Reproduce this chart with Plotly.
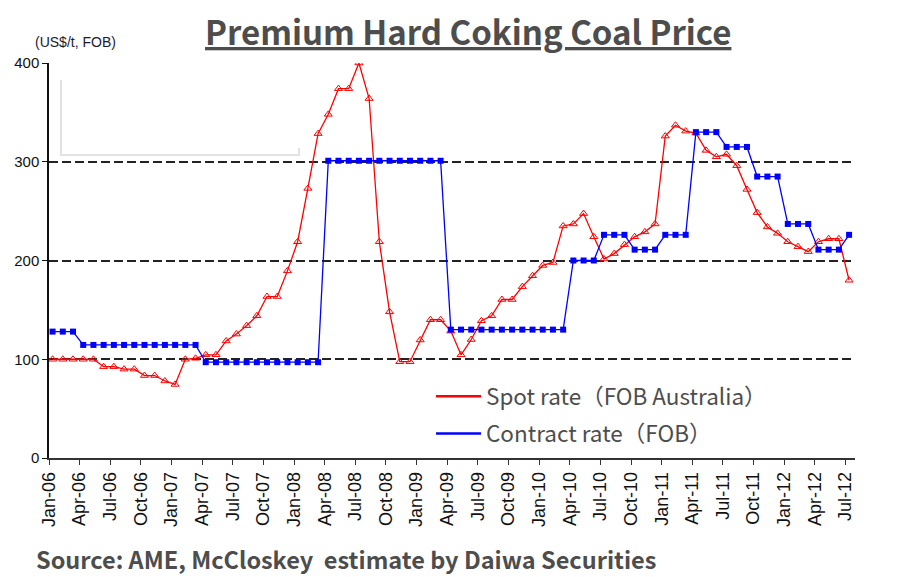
import plotly.graph_objects as go
import pandas as pd

# ---- data (monthly, Jan-06 .. Jul-12) ----
months = pd.date_range("2006-01-01", "2012-07-01", freq="MS").strftime("%b-%y").tolist()

spot_rate = [
    100, 100, 100, 100, 100,
    92.5, 92.5, 90, 90,
    83.5, 83.5, 78, 74.5,
    100, 101, 104.5, 104.5,
    118.5, 125.5, 134, 144, 163.5, 163.5, 189.5, 219,
    273, 328.5, 348, 374, 374,
    400, 364, 219, 148, 97.5, 97.5, 119.5, 140, 140,
    128.5, 104.5, 120, 139, 144, 160.5, 160.5, 173.5, 184.5, 195, 198,
    235, 237, 247.5, 224, 201.5, 207, 216, 224, 229, 237,
    326, 337, 331, 329, 311.5, 305, 307.5, 296, 272, 248.5,
    234, 227.5, 219, 214, 209, 219, 222, 222, 180,
]

contract_rate = (
    [128] * 3 + [114.5] * 12 + [97] * 12 + [301] * 12 + [130] * 12
    + [200] * 3 + [226] * 3 + [211] * 3 + [226] * 3 + [330] * 3
    + [315] * 3 + [285] * 3 + [237] * 3 + [211] * 3 + [226]
)

tick_labels = months[::3]
y_ticks = [0, 100, 200, 300, 400]

series_names = ["Spot rate（FOB Australia）", "Contract rate（FOB）"]
title_text = "Premium Hard Coking Coal Price"
unit_text = "(US$/t, FOB)"
source_text = "Source: AME, McCloskey  estimate by Daiwa Securities"

x_idx = list(range(len(months)))
tick_shift = 0.35  # ticks sit slightly left of the data points in the original

RED = "#ff0000"
BLUE = "#0000ff"
GRAY_TXT = "#4d4d4d"
GOTHIC = "Noto Sans CJK JP, Noto Sans, sans-serif"

fig = go.Figure()

fig.add_trace(go.Scatter(
    x=x_idx, y=spot_rate, mode="lines+markers", name=series_names[0],
    line=dict(color=RED, width=1.3),
    marker=dict(symbol="triangle-up-open", size=7, color=RED, line=dict(width=1)),
    showlegend=False,
))
fig.add_trace(go.Scatter(
    x=x_idx, y=contract_rate, mode="lines+markers", name=series_names[1],
    line=dict(color=BLUE, width=1.3),
    marker=dict(symbol="square", size=6, color=BLUE),
    showlegend=False,
))
# legend entries (lines only, like the original)
fig.add_trace(go.Scatter(x=[None], y=[None], mode="lines", name=series_names[0],
                         line=dict(color=RED, width=2.5), legendgroup="a"))
fig.add_trace(go.Scatter(x=[None], y=[None], mode="lines", name=series_names[1],
                         line=dict(color=BLUE, width=2.5), legendgroup="b"))

# page has an 8px body margin; layout numbers below are in figure pixels
OFF = 8
W, H = 900, 569
L, T = 49 - OFF, 63 - OFF
R = W - (855 - OFF)
B = H - (458 - OFF)
pw, ph = W - L - R, H - T - B


def px(sx):
    return (sx - OFF - L) / pw


def py(sy):
    return (H - B - (sy - OFF)) / ph


fig.update_layout(
    width=W, height=H,
    margin=dict(l=L, r=R, t=T, b=B, autoexpand=False),
    paper_bgcolor="white", plot_bgcolor="white",
    font=dict(family="Liberation Sans, Arial, sans-serif", color="black"),
    xaxis=dict(
        range=[-tick_shift, 78.58],
        tickmode="array",
        tickvals=[i - tick_shift for i in x_idx[::3]],
        ticktext=tick_labels,
        tickangle=-90,
        tickfont=dict(size=18, color="#111111"),
        ticks="outside", ticklen=5, tickcolor="#333333",
        showline=True, linecolor="#333333", linewidth=1.5,
        showgrid=False, zeroline=False, automargin=False,
    ),
    yaxis=dict(
        range=[0, 400],
        tickvals=y_ticks,
        tickfont=dict(size=15, color="#111111"),
        ticks="outside", ticklen=5, tickcolor="#111111",
        showline=True, linecolor="#111111", linewidth=1.5,
        showgrid=True, gridcolor="#222222", gridwidth=1.5, griddash="9px,4px",
        zeroline=False, automargin=False,
    ),
    legend=dict(
        x=px(431), y=py(375), xanchor="left", yanchor="top",
        font=dict(family=GOTHIC, size=22.5, color=GRAY_TXT),
        bgcolor="rgba(0,0,0,0)", tracegroupgap=5, traceorder="grouped",
        itemwidth=45,
    ),
    annotations=[
        dict(text="<b><u>" + title_text + "</u></b>", xref="paper", yref="paper",
             x=px(468), y=py(31), xanchor="center", yanchor="middle", showarrow=False,
             font=dict(family=GOTHIC, size=33, color=GRAY_TXT)),
        dict(text=unit_text, xref="paper", yref="paper",
             x=px(33), y=py(42), xanchor="left", yanchor="middle", showarrow=False,
             font=dict(family="Liberation Sans, Arial, sans-serif", size=14, color="#1a1a33")),
        dict(text="<b>" + source_text + "</b>", xref="paper", yref="paper",
             x=px(34), y=py(559), xanchor="left", yanchor="middle", showarrow=False,
             font=dict(family=GOTHIC, size=23.5, color=GRAY_TXT)),
    ],
    shapes=[
        dict(type="path", xref="paper", yref="paper",
             path=f"M {px(61)},{py(80)} L {px(61)},{py(155)} L {px(299)},{py(155)} L {px(299)},{py(148)}",
             line=dict(color="#e2e2e2", width=2)),
    ],
)

fig.write_html("out.html")
